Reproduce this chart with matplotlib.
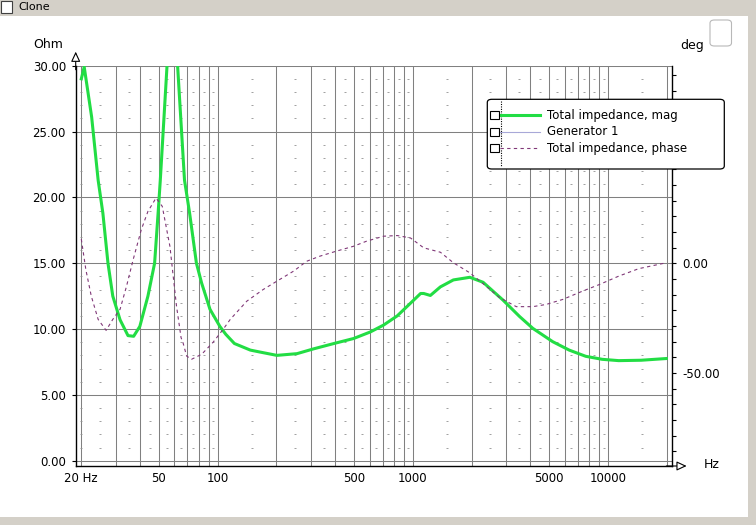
import numpy as np
import matplotlib
matplotlib.use("Agg")
import matplotlib.pyplot as plt
from matplotlib.patches import Rectangle, FancyBboxPatch
from matplotlib.lines import Line2D
from matplotlib.ticker import FixedLocator, MultipleLocator

# --- data ---
mag_freq = [20.0, 20.7, 22.6, 24.4, 25.8, 27.4, 29.0, 31.6, 34.7, 37.1, 39.9, 43.9,
            47.5, 49.5, 50.8, 55.0, 56.5, 58.5, 60.5, 62.3, 67.6, 71.8, 77.8, 82.7,
            91.3, 102.6, 110, 121.8, 147, 165, 201, 255, 311, 394, 497, 606, 708,
            832, 1011, 1096, 1137, 1230, 1384, 1614, 1960, 2292, 2897, 3525, 4122,
            5210, 6330, 7690, 9340, 11350, 14800, 19900]
mag_ohm = [29.0, 29.9, 26.1, 21.3, 18.8, 15.0, 12.5, 10.7, 9.5, 9.45, 10.2, 12.5,
           15.0, 18.8, 21.3, 30.0, 36.0, 40.0, 36.0, 30.0, 21.3, 18.8, 15.0, 13.5,
           11.5, 10.2, 9.6, 8.9, 8.4, 8.25, 8.0, 8.13, 8.5, 8.9, 9.28, 9.78, 10.3,
           11.0, 12.2, 12.7, 12.7, 12.55, 13.2, 13.73, 13.93, 13.55, 12.2, 10.95, 10.05,
           9.04, 8.4, 7.93, 7.7, 7.6, 7.63, 7.76]

ph_freq = [20.0, 21.1, 22.5, 24.4, 26.8, 29.0, 31.6, 34.1, 36.9, 40.6, 43.9, 48.3,
           52.0, 56.9, 61.5, 64.9, 66.4, 69.3, 73.4, 82.8, 94.8, 106.7, 116, 141,
           171, 201, 245, 286, 334, 406, 496, 578, 708, 832, 973, 1137, 1230, 1384,
           1614, 1960, 2377, 2788, 3390, 4122, 4820, 5870, 7420, 9050, 11350, 14370,
           19900]
ph_deg = [11.0, -2.9, -15.0, -25.6, -30.6, -25.6, -21.0, -10.5, 1.7, 15.3, 23.6, 29.7,
          25.9, 7.7, -19.5, -33.9, -36.2, -42.3, -43.8, -41.5, -36.0, -30.1, -25.6, -17.3,
          -12.0, -8.2, -3.6, 0.9, 3.2, 5.5, 7.7, 10.0, 12.3, 12.6, 11.5, 7.0, 6.2, 5.0,
          0.2, -4.4, -10.5, -15.7, -19.8, -19.8, -18.8, -16.5, -12.7, -9.7, -5.9, -2.5,
          0.2]

grid_freqs = [20, 30, 40, 50, 60, 70, 80, 90, 100, 200, 300, 400, 500, 600, 700, 800,
              900, 1000, 2000, 3000, 4000, 5000, 6000, 7000, 8000, 9000, 10000, 20000]
x_labels = {20: "20 Hz", 50: "50", 100: "100", 500: "500", 1000: "1000",
            5000: "5000", 10000: "10000"}
ohm_ticks = [0, 5, 10, 15, 20, 25, 30]
deg_ticks = [-50, 0]

legend_names = ["Total impedance, mag", "Generator 1", "Total impedance, phase"]

GREEN = "#22DD44"
PURPLE = "#803878"
GEN = "#A8A8D8"
GRID = "#808080"
GRAYBG = "#D4D0C8"

W, H = 756, 525
plt.rcParams["font.family"] = ["DejaVu Sans"]
fs = 8.5

fig = plt.figure(figsize=(W / 100, H / 100), dpi=100)
fig.patch.set_facecolor("white")


def fx(px):
    return px / W


def fy(py):
    return 1 - py / H


# axes box: left spine x=75.7, right spine x=672.3, top (30 Ohm) y=65.7, bottom spine y=466
ax = fig.add_axes([fx(75.7), fy(466), fx(672.3) - fx(75.7), fy(65.7) - fy(466)])
ax.set_xscale("log")
dec = (666.7 - 81.3) / 3
ax.set_xlim(20 * 10 ** (-5.6 / dec), 20000 * 10 ** (5.6 / dec))
ybot = -(466 - 460.7) / 13.17
ax.set_ylim(ybot, 30)

ax.xaxis.set_major_locator(FixedLocator(grid_freqs))
ax.xaxis.set_minor_locator(FixedLocator([]))
ax.set_xticklabels([x_labels.get(f, "") for f in grid_freqs], fontsize=fs)
ax.tick_params(axis="x", length=0, pad=4)
ax.set_yticks(ohm_ticks)
ax.set_yticklabels(["%.2f" % v for v in ohm_ticks], fontsize=fs)
ax.tick_params(axis="y", length=3, width=0.8, color="black", pad=4)
ax.grid(True, color=GRID, linewidth=0.75)
ax.set_axisbelow(True)

for s in ["top", "right"]:
    ax.spines[s].set_visible(False)
ax.spines["left"].set_linewidth(1.0)
ax.spines["bottom"].set_linewidth(1.0)

# small dash marks of the minor grid
dash_x = [20] + [(k + 0.5) * 10 ** n for n in range(1, 5) for k in range(1, 10)]
dash_x = [v for v in dash_x if 20 <= v <= 20000]
dash_y = [v for v in range(1, 30) if v % 5 != 0]
DX, DY = np.meshgrid(dash_x, dash_y)
ax.plot(DX.ravel(), DY.ravel(), ls="none", marker="_", ms=2.0, mew=0.6,
        color="#909090", zorder=1)

ax.plot(mag_freq, mag_ohm, color=GREEN, lw=2.2, zorder=3, solid_joinstyle="round")

# phase axis
ax2 = ax.twinx()
ax2.set_ylim((ybot - 15) * 6, 90)
ax2.patch.set_visible(False)
for s in ["top", "left", "bottom"]:
    ax2.spines[s].set_visible(False)
ax2.spines["right"].set_linewidth(1.0)
ax2.set_yticks(deg_ticks)
ax2.set_yticklabels(["%.2f" % v for v in deg_ticks], fontsize=fs)
ax2.yaxis.set_minor_locator(MultipleLocator(50 / 7))
ax2.tick_params(axis="y", which="both", length=3, width=0.8, pad=4)
ax2.plot(ph_freq, ph_deg, color=PURPLE, lw=0.8, ls=(0, (3, 3)), zorder=3)

# axis arrows
ax.annotate("", xy=(0, 1.035), xytext=(0, 0.99), xycoords="axes fraction",
            arrowprops=dict(arrowstyle="-|>,head_length=0.6,head_width=0.28",
                            fc="white", ec="black", lw=0.8, shrinkA=0, shrinkB=0),
            annotation_clip=False)
ax.annotate("", xy=(1.024, 0), xytext=(0.99, 0), xycoords="axes fraction",
            arrowprops=dict(arrowstyle="-|>,head_length=0.6,head_width=0.28",
                            fc="white", ec="black", lw=0.8, shrinkA=0, shrinkB=0),
            annotation_clip=False)

# axis unit labels
fig.text(fx(48), fy(44), "Ohm", fontsize=fs + 0.5, ha="center", va="center")
fig.text(fx(692), fy(45), "deg", fontsize=fs + 0.5, ha="center", va="center")
fig.text(fx(712), fy(464), "Hz", fontsize=fs + 0.5, ha="center", va="center")

# window chrome
fig.add_artist(Rectangle((0, fy(16)), 1, 16 / H, transform=fig.transFigure,
                         fc=GRAYBG, ec="none", zorder=5))
fig.add_artist(Rectangle((fx(748), 0), 8 / W, 1, transform=fig.transFigure,
                         fc=GRAYBG, ec="none", zorder=5))
fig.add_artist(Rectangle((0, 0), 1, 8 / H, transform=fig.transFigure,
                         fc=GRAYBG, ec="none", zorder=5))
fig.add_artist(Rectangle((fx(1), fy(13)), 11 / W, 12 / H, transform=fig.transFigure,
                         fc="white", ec="#404040", lw=0.8, zorder=6))
fig.text(fx(18), fy(7.5), "Clone", fontsize=fs - 0.5, ha="left", va="center", zorder=6)
fig.add_artist(FancyBboxPatch((fx(710), fy(46)), 21.5 / W, 26 / H,
                              boxstyle="round,pad=0,rounding_size=0.006",
                              transform=fig.transFigure, fc="white", ec="#B8B8B8",
                              lw=0.8, zorder=6))

# legend
fig.add_artist(FancyBboxPatch((fx(487.3), fy(169)), (724.3 - 487.3) / W, (169 - 99.3) / H,
                              boxstyle="round,pad=0,rounding_size=0.006",
                              transform=fig.transFigure, fc="white", ec="black",
                              lw=0.9, zorder=10))
fig.add_artist(Line2D([fx(500.7), fx(500.7)], [fy(101), fy(167)], transform=fig.transFigure,
                      color="black", lw=0.8, ls=(0, (1, 1.2)), zorder=11))
rows = [115, 131.7, 148.3]
styles = [dict(color=GREEN, lw=2.2), dict(color=GEN, lw=0.8),
          dict(color=PURPLE, lw=0.8, ls=(0, (3, 3)))]
for ry, name, st in zip(rows, legend_names, styles):
    fig.add_artist(Line2D([fx(500), fx(540)], [fy(ry), fy(ry)],
                          transform=fig.transFigure, zorder=11, **st))
    fig.add_artist(Rectangle((fx(490), fy(ry + 4)), 9 / W, 8 / H, transform=fig.transFigure,
                             fc="white", ec="black", lw=0.8, zorder=12))
    fig.text(fx(546.7), fy(ry), name, fontsize=fs, ha="left", va="center", zorder=12)

fig.savefig("out.png", dpi=100)
